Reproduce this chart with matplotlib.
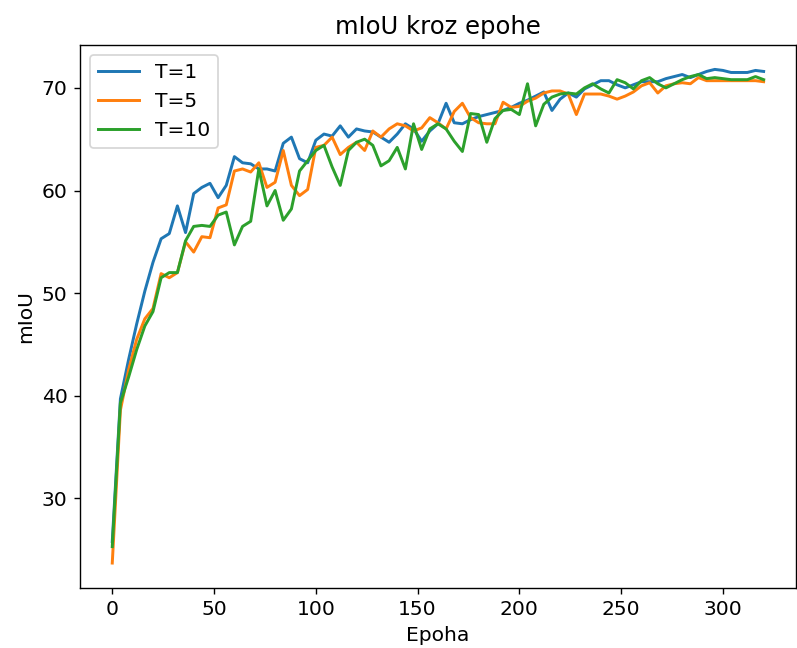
import matplotlib
matplotlib.use("Agg")
import matplotlib.pyplot as plt
import numpy as np

# evaluation every 4 epochs
epochs = np.arange(0, 321, 4)

miou_t1 = [25.8, 39.7, 43.5, 47.0, 50.2, 53.0, 55.3, 55.8, 58.5, 55.9,
           59.7, 60.3, 60.7, 59.3, 60.5, 63.3, 62.7, 62.6, 62.1, 62.1,
           61.9, 64.6, 65.2, 63.1, 62.7, 64.9, 65.5, 65.3, 66.3, 65.2,
           66.0, 65.8, 65.7, 65.2, 64.7, 65.5, 66.5, 66.0, 64.8, 65.8,
           66.5, 68.5, 66.6, 66.5, 66.9, 67.2, 67.4, 67.6, 67.8, 68.1,
           68.5, 68.8, 69.2, 69.6, 67.8, 68.9, 69.5, 69.1, 69.9, 70.3,
           70.7, 70.7, 70.3, 70.0, 70.3, 70.6, 70.6, 70.6, 70.9, 71.1,
           71.3, 71.0, 71.3, 71.6, 71.8, 71.7, 71.5, 71.5, 71.5, 71.7,
           71.6]

miou_t5 = [23.7, 38.6, 42.5, 45.5, 47.5, 48.5, 51.9, 51.5, 52.0, 55.0,
           54.0, 55.5, 55.4, 58.3, 58.6, 61.9, 62.1, 61.8, 62.7, 60.3,
           60.8, 63.9, 60.5, 59.5, 60.1, 64.2, 64.4, 65.2, 63.5, 64.2,
           64.7, 63.9, 65.8, 65.2, 66.0, 66.5, 66.3, 65.8, 66.1, 67.1,
           66.6, 66.0, 67.7, 68.5, 67.1, 66.6, 66.5, 66.5, 68.6, 68.1,
           68.2, 68.7, 69.0, 69.5, 69.7, 69.7, 69.4, 67.4, 69.4, 69.4,
           69.4, 69.2, 68.9, 69.2, 69.6, 70.2, 70.5, 69.5, 70.2, 70.4,
           70.5, 70.4, 71.0, 70.7, 70.7, 70.7, 70.7, 70.7, 70.7, 70.7,
           70.6]

miou_t10 = [25.3, 39.3, 41.8, 44.5, 46.8, 48.2, 51.5, 52.0, 52.0, 55.1,
            56.5, 56.6, 56.5, 57.6, 57.9, 54.7, 56.5, 57.0, 62.1, 58.5,
            60.0, 57.1, 58.2, 61.9, 62.9, 63.9, 64.4, 62.3, 60.5, 63.9,
            64.7, 65.0, 64.4, 62.4, 62.9, 64.2, 62.1, 66.5, 64.0, 66.0,
            66.5, 66.0, 64.8, 63.8, 67.5, 67.4, 64.7, 67.0, 67.8, 67.9,
            67.4, 70.4, 66.3, 68.4, 69.1, 69.4, 69.5, 69.4, 70.0, 70.4,
            69.9, 69.5, 70.8, 70.5, 69.9, 70.7, 71.0, 70.4, 70.0, 70.4,
            70.8, 71.1, 71.3, 70.9, 71.0, 70.9, 70.8, 70.8, 70.8, 71.1,
            70.8]

plt.rcParams['font.size'] = 11.7
plt.rcParams['lines.linewidth'] = 1.7

fig = plt.figure(figsize=(797 / 125, 648 / 125), dpi=125)
ax = fig.add_axes([0.100, 0.093, 0.899, 0.838])

ax.plot(epochs, miou_t1, label='T=1')
ax.plot(epochs, miou_t5, label='T=5')
ax.plot(epochs, miou_t10, label='T=10')

ax.set_title('mIoU kroz epohe', fontsize=14)
ax.set_xlabel('Epoha')
ax.set_ylabel('mIoU')
ax.legend(loc='upper left')

fig.savefig('out.png', dpi=125)
